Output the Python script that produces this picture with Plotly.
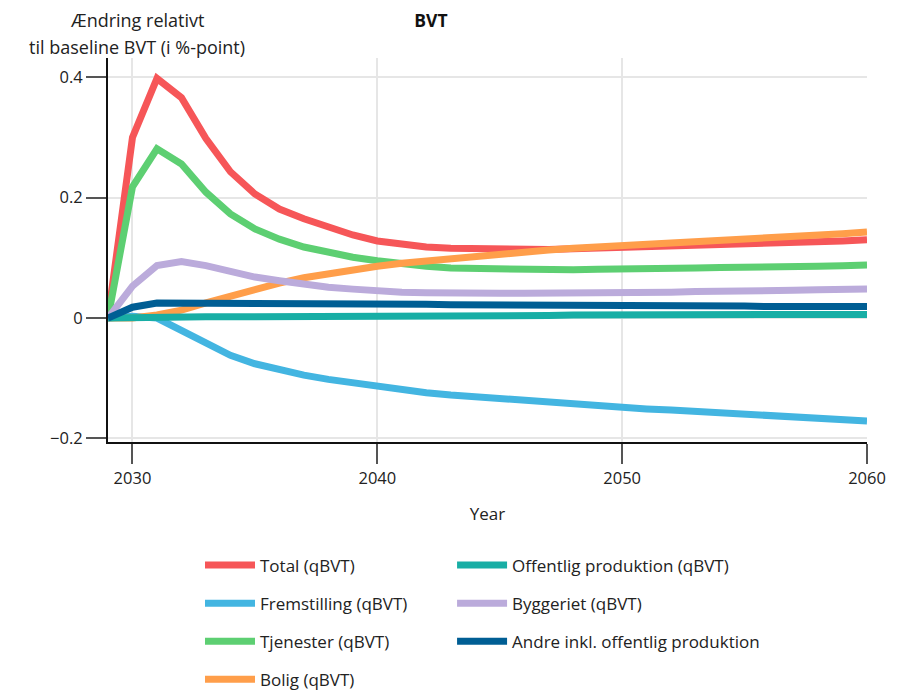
import plotly.graph_objects as go

years = list(range(2029, 2061))

total = [0, 0.300, 0.398, 0.366, 0.298, 0.243, 0.206, 0.181, 0.165, 0.151, 0.138, 0.128,
         0.122, 0.118, 0.116, 0.115, 0.114, 0.114, 0.114, 0.115, 0.116, 0.117, 0.118, 0.119,
         0.120, 0.121, 0.123, 0.124, 0.125, 0.127, 0.128, 0.130]
fremstilling = [0, 0.003, 0.000, -0.020, -0.042, -0.062, -0.076, -0.086, -0.095, -0.102, -0.108,
                -0.114, -0.119, -0.124, -0.128, -0.131, -0.135, -0.138, -0.141, -0.143, -0.146,
                -0.148, -0.151, -0.153, -0.155, -0.157, -0.160, -0.162, -0.164, -0.166, -0.168, -0.171]
tjenester = [0, 0.218, 0.281, 0.256, 0.209, 0.173, 0.148, 0.131, 0.118, 0.109, 0.101, 0.095,
             0.090, 0.086, 0.083, 0.082, 0.081, 0.081, 0.080, 0.080, 0.081, 0.081, 0.082, 0.082,
             0.083, 0.084, 0.084, 0.085, 0.086, 0.086, 0.087, 0.088]
bolig = [0, 0.000, 0.005, 0.013, 0.025, 0.037, 0.048, 0.058, 0.067, 0.074, 0.080, 0.086,
         0.091, 0.095, 0.099, 0.103, 0.107, 0.110, 0.113, 0.116, 0.118, 0.120, 0.122, 0.124,
         0.127, 0.129, 0.131, 0.133, 0.136, 0.138, 0.140, 0.143]
offentlig = [0, 0.001, 0.001, 0.001, 0.002, 0.002, 0.002, 0.002, 0.003, 0.003, 0.003, 0.003,
             0.003, 0.004, 0.004, 0.004, 0.004, 0.004, 0.004, 0.005, 0.005, 0.005, 0.005, 0.005,
             0.005, 0.005, 0.006, 0.006, 0.006, 0.006, 0.006, 0.006]
byggeriet = [0, 0.053, 0.087, 0.094, 0.087, 0.077, 0.068, 0.062, 0.056, 0.051, 0.048, 0.045,
             0.043, 0.042, 0.041, 0.041, 0.041, 0.041, 0.041, 0.042, 0.042, 0.042, 0.043, 0.043,
             0.044, 0.044, 0.045, 0.046, 0.046, 0.047, 0.047, 0.048]
andre = [0, 0.018, 0.025, 0.025, 0.025, 0.025, 0.024, 0.024, 0.024, 0.024, 0.023, 0.023,
         0.023, 0.023, 0.022, 0.022, 0.022, 0.022, 0.021, 0.021, 0.021, 0.021, 0.020, 0.020,
         0.020, 0.020, 0.020, 0.019, 0.019, 0.019, 0.019, 0.019]

series_names = ["Total (qBVT)", "Fremstilling (qBVT)", "Tjenester (qBVT)", "Bolig (qBVT)",
                "Offentlig produktion (qBVT)", "Byggeriet (qBVT)", "Andre inkl. offentlig produktion"]
series_values = [total, fremstilling, tjenester, bolig, offentlig, byggeriet, andre]
series_colors = ["#F65658", "#43B5E1", "#5DCF72", "#FF9E4A", "#18AEA5", "#BBABDB", "#005E94"]
legend_columns = ["c1", "c1", "c1", "c1", "c2", "c2", "c2"]
# trailing non-breaking spaces widen the first legend column
legend_pad = [0, 9, 0, 0, 0, 0, 0]

x_ticks = [2030, 2040, 2050, 2060]
y_ticks = [-0.2, 0, 0.2, 0.4]
y_title_lines = ["Ændring relativt", "til baseline BVT (i %-point)"]

FONT = "Open Sans"
W, H = 902, 691
L, R, T, B = 100, 43, 50, 257
PW, PH = W - L - R, H - T - B

fig = go.Figure()
for name, vals, col, grp, pad in zip(series_names, series_values, series_colors,
                                     legend_columns, legend_pad):
    fig.add_trace(go.Scatter(
        x=years, y=vals, mode="lines",
        name='<span style="font-size:17px;baseline-shift:4px">' + name + "&nbsp;" * pad + '</span>',
        legendgroup=grp,
        line=dict(color=col, width=7),
    ))

annots = []
for i, line in enumerate(y_title_lines):
    annots.append(dict(
        text=line, xref="paper", yref="paper",
        x=(128.5 - L) / PW, y=(H - B - (12 + 27 * i)) / PH,
        xanchor="center", yanchor="middle", showarrow=False,
        font=dict(family=FONT, size=18, color="#222"),
    ))

fig.update_layout(
    width=W, height=H,
    margin=dict(l=L, r=R, t=T, b=B, autoexpand=False),
    paper_bgcolor="white", plot_bgcolor="white",
    font=dict(family=FONT, size=16.5, color="#222"),
    title=dict(text="<b>BVT</b>", x=423/W, xref="container", xanchor="center",
               y=1 - 12.5/H, yref="container", yanchor="middle",
               font=dict(family=FONT, size=17.5, color="#111")),
    showlegend=True,
    legend=dict(
        orientation="h", traceorder="grouped", tracegroupgap=0,
        x=(192 - L) / PW, xanchor="left", y=(H - B - 533) / PH, yanchor="top",
        itemwidth=50,
        font=dict(family=FONT, size=27, color="#222"),
        bgcolor="rgba(0,0,0,0)",
    ),
    xaxis=dict(
        range=[2029, 2060], tickvals=x_ticks, showgrid=True, gridcolor="#E6E6E6", gridwidth=1.5,
        zeroline=False, showline=True, linecolor="#111", linewidth=2,
        ticks="outside", ticklen=20, tickcolor="#555", tickwidth=2,
        title=dict(text="Year", standoff=20, font=dict(family=FONT, size=17, color="#222")),
        tickfont=dict(family=FONT, size=16.5, color="#222"),
    ),
    yaxis=dict(
        range=[-0.206, 0.432], tickvals=y_ticks, showgrid=True, gridcolor="#E6E6E6", gridwidth=1.5,
        zeroline=False, showline=True, linecolor="#111", linewidth=2,
        ticks="outside", ticklen=20, tickcolor="#555", tickwidth=2,
        tickfont=dict(family=FONT, size=16.5, color="#222"),
    ),
    annotations=annots,
)

fig.write_html("out.html")
